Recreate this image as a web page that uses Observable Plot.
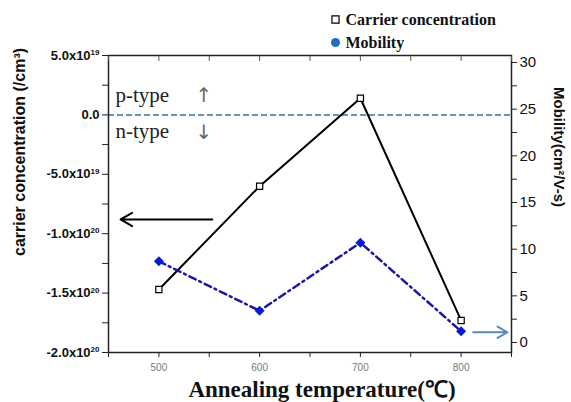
<!DOCTYPE html>
<html><head><meta charset="utf-8">
<script src="https://cdn.jsdelivr.net/npm/d3@7"></script>
<script src="https://cdn.jsdelivr.net/npm/@observablehq/plot@0.6"></script>
<style>body{margin:0;background:#fff}</style>
</head><body><div id="chart"></div>
<script>
const temps = [500, 600, 700, 800];
const carrier = [-1.47e20, -6.0e19, 1.4e19, -1.73e20];
const mobility = [8.7, 3.4, 10.7, 1.2];
const xTicks = [450, 500, 550, 600, 650, 700, 750, 800, 850];
const xLabels = [500, 600, 700, 800];
const leftTicks = [5e19, 2.5e19, 0, -2.5e19, -5e19, -7.5e19, -1e20, -1.25e20, -1.5e20, -1.75e20, -2e20];
const leftLabelVals = [5e19, 0, -5e19, -1e20, -1.5e20, -2e20];
const leftLabels = ["5.0x10^19", "0.0", "-5.0x10^19", "-1.0x10^20", "-1.5x10^20", "-2.0x10^20"];
const rightTicks = [0, 2.5, 5, 7.5, 10, 12.5, 15, 17.5, 20, 22.5, 25, 27.5, 30];
const seriesNames = ["Carrier concentration", "Mobility"];

const yDom = [-2e20, 5e19];
const mDom = [-1.07, 30.75];
const toY = m => yDom[0] + (m - mDom[0]) / (mDom[1] - mDom[0]) * (yDom[1] - yDom[0]);
const fromY = y => mDom[0] + (y - yDom[0]) / (yDom[1] - yDom[0]) * (mDom[1] - mDom[0]);

const cData = temps.map((t, i) => ({t, v: carrier[i]}));
const mData = temps.map((t, i) => ({t, v: toY(mobility[i])}));
const leftMap = new Map(leftLabelVals.map((v, i) => [v, leftLabels[i]]));

const note = (txt, o) => Plot.text([txt], {text: d => d, frameAnchor: "top-left", lineAnchor: "middle", ...o});

const plot = Plot.plot({
  width: 571, height: 402,
  marginLeft: 108, marginRight: 60, marginTop: 55, marginBottom: 50,
  style: {fontFamily: "Liberation Sans, Arial, sans-serif", background: "#fff"},
  x: {domain: [450, 850]},
  y: {domain: yDom},
  marks: [
    Plot.ruleY([0], {stroke: "#6a93bb", strokeWidth: 2, strokeDasharray: "6,3"}),
    Plot.frame({stroke: "#222", strokeWidth: 1.5}),
    Plot.axisX(xTicks, {anchor: "bottom", tickSize: 5, tickFormat: d => xLabels.includes(d) ? String(d) : "", fill: "#777", fontSize: 10, tickPadding: 6, stroke: "#222"}),
    Plot.axisX(xTicks, {anchor: "top", tickSize: -5, tickFormat: () => "", stroke: "#555"}),
    Plot.axisY(leftTicks, {anchor: "left", tickSize: 6, tickPadding: 3, tickFormat: d => leftMap.get(d) || "", fontWeight: "bold", fontSize: 13, fill: "#111", stroke: "#222"}),
    Plot.axisY(rightTicks.map(toY), {anchor: "right", tickSize: 5, tickPadding: 3, tickFormat: d => { const m = Math.round(fromY(d) * 10) / 10; return m % 5 === 0 ? String(m) : ""; }, fontSize: 15, fill: "#111", stroke: "#222"}),
    // carrier concentration
    Plot.line(cData, {x: "t", y: "v", stroke: "#000", strokeWidth: 2}),
    Plot.dot(cData, {x: "t", y: "v", symbol: "square", r: 3.5, fill: "#fff", stroke: "#000", strokeWidth: 1.2}),
    // mobility
    Plot.line(mData, {x: "t", y: "v", stroke: "#1a1a9a", strokeWidth: 2.5, strokeDasharray: "7,4,2,4"}),
    Plot.dot(mData, {x: "t", y: "v", symbol: "diamond2", r: 4.5, fill: "#0a1ad0", stroke: "none"}),
    // arrows
    Plot.arrow([{x1: 553, x2: 462, y: -8.8e19}], {x1: "x1", x2: "x2", y1: "y", y2: "y", stroke: "#000", strokeWidth: 2, headLength: 10}),
    Plot.arrow([{x1: 812, x2: 846, y: toY(1.1)}], {x1: "x1", x2: "x2", y1: "y", y2: "y", stroke: "#5b88b8", strokeWidth: 2, headLength: 10}),
    // p-type / n-type annotations
    note("p-type", {dx: 7, dy: 40, textAnchor: "start", fontFamily: "Liberation Serif, serif", fontSize: 21, fill: "#222"}),
    note("n-type", {dx: 7, dy: 76, textAnchor: "start", fontFamily: "Liberation Serif, serif", fontSize: 21, fill: "#222"}),
    note("↑", {dx: 87, dy: 40, fontFamily: "DejaVu Sans, sans-serif", fontSize: 20, fill: "#666"}),
    note("↓", {dx: 87, dy: 77, fontFamily: "DejaVu Sans, sans-serif", fontSize: 20, fill: "#666"}),
    // legend
    Plot.dot([0], {frameAnchor: "top-left", dx: 227, dy: -36, symbol: "square", r: 4, fill: "#fff", stroke: "#000", strokeWidth: 1.2}),
    note(seriesNames[0], {dx: 237, dy: -36, textAnchor: "start", fontFamily: "Liberation Serif, serif", fontWeight: "bold", fontSize: 16, fill: "#111"}),
    Plot.dot([0], {frameAnchor: "top-left", dx: 227, dy: -13, r: 4.5, fill: "#1b6fc9", stroke: "none"}),
    note(seriesNames[1], {dx: 237, dy: -13, textAnchor: "start", fontFamily: "Liberation Serif, serif", fontWeight: "bold", fontSize: 16, fill: "#111"}),
    // axis titles
    Plot.text(["Annealing temperature(℃)"], {frameAnchor: "bottom", lineAnchor: "middle", dx: 12, dy: 37, text: d => d, fontFamily: "Liberation Serif, serif", fontWeight: "bold", fontSize: 23, fill: "#111"}),
    Plot.text(["carrier concentration (/cm³)"], {frameAnchor: "left", lineAnchor: "middle", dx: -89, dy: 52, rotate: -90, text: d => d, fontWeight: "bold", fontSize: 16, fill: "#111"}),
    Plot.text(["Mobility(cm²/V-s)"], {frameAnchor: "right", lineAnchor: "middle", dx: 47, dy: 3, rotate: 90, text: d => d, fontWeight: "bold", fontSize: 15, fill: "#111"})
  ]
});
// render "^" exponents as superscripts
plot.querySelectorAll("text").forEach(t => {
  const s = t.textContent;
  if (s.includes("^") && t.children.length === 0) {
    const [base, exp] = s.split("^");
    t.textContent = base;
    const sp = document.createElementNS("http://www.w3.org/2000/svg", "tspan");
    sp.setAttribute("dy", "-0.55em");
    sp.setAttribute("font-size", "8");
    sp.textContent = exp;
    t.appendChild(sp);
  }
});
document.getElementById("chart").appendChild(plot);
</script>
</body></html>
